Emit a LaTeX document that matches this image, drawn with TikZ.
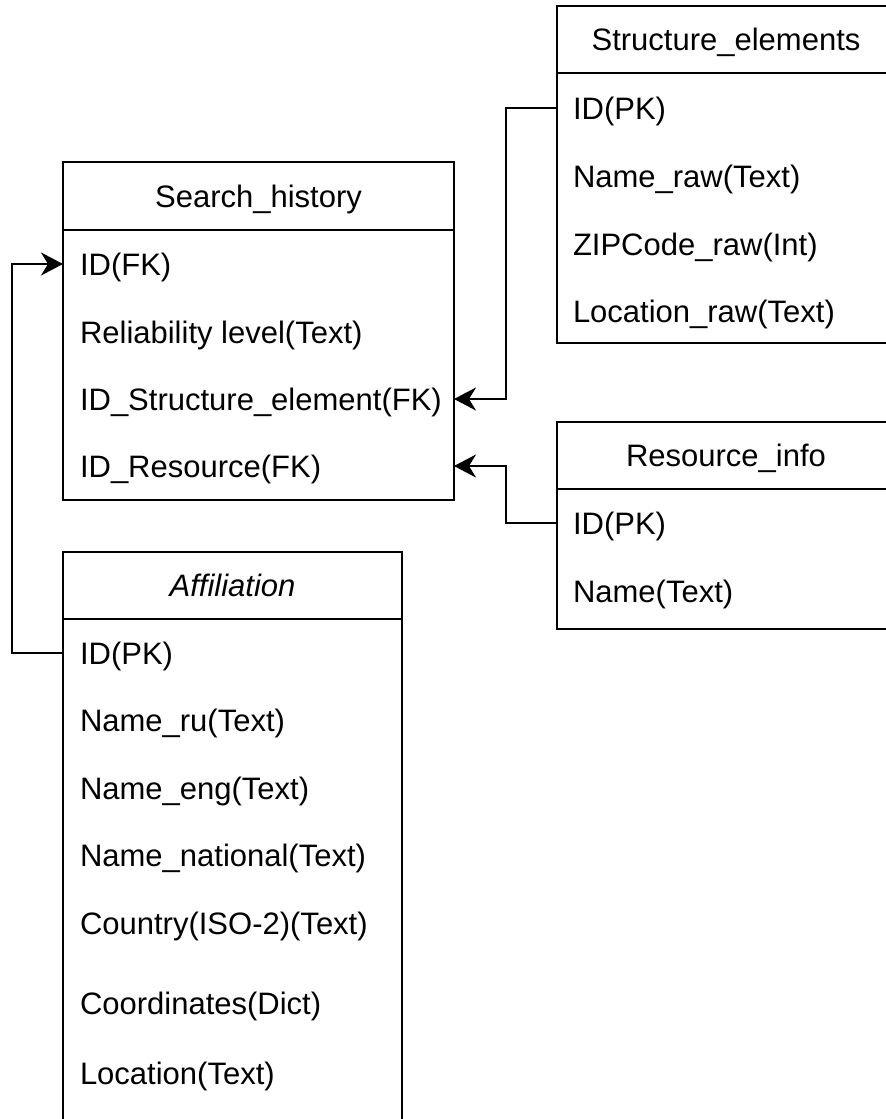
\documentclass[tikz,border=0pt]{standalone}
\usepackage{fontspec}
\setmainfont{Liberation Sans}
\usetikzlibrary{arrows.meta}
\begin{document}
\begin{tikzpicture}[x=1pt,y=-1pt,
  every node/.style={font=\fontsize{31}{37}\selectfont},
  hdr/.style={draw, line width=2pt, rectangle, inner sep=0pt, outer sep=0pt,
    text height=22pt, text depth=0pt},
  tbody/.style={draw, line width=2pt, rectangle, anchor=north, inner sep=0pt, outer sep=0pt},
  fld/.style={rectangle, anchor=west, inner sep=0pt, outer sep=0pt, text height=22pt, text depth=0pt},
  conn/.style={line width=2pt, -{Stealth[length=22pt,width=23pt,inset=7pt]}},
]
\useasboundingbox (0,0) rectangle (886,1119);
\clip (0,0) rectangle (886,1119);
\fill[white] (0,0) rectangle (886,1119);

% Search_history table
\node[hdr, minimum width=391pt, minimum height=68pt] (sh) at (258.5,196) {Search\_history};
\node[tbody, minimum width=391pt, minimum height=270pt] (shb) at (sh.south) {};
\node[fld] (shid)  at (80,264) {ID(FK)};
\node[fld] (shrel) at (80,332) {Reliability level(Text)};
\node[fld] (shse)  at (80,399) {ID\_Structure\_element(FK)};
\node[fld] (shres) at (80,466) {ID\_Resource(FK)};

% Structure_elements table
\node[hdr, minimum width=338pt, minimum height=67pt] (se) at (726,39.5) {Structure\_elements};
\node[tbody, minimum width=338pt, minimum height=270pt] (seb) at (se.south) {};
\node[fld] (seid)  at (573,108) {ID(PK)};
\node[fld] (sename) at (573,176) {Name\_raw(Text)};
\node[fld] (sezip) at (573,244) {ZIPCode\_raw(Int)};
\node[fld] (seloc) at (573,311) {Location\_raw(Text)};

% Resource_info table
\node[hdr, minimum width=338pt, minimum height=67pt] (ri) at (726,455.5) {Resource\_info};
\node[tbody, minimum width=338pt, minimum height=140pt] (rib) at (ri.south) {};
\node[fld] (riid)   at (573,523) {ID(PK)};
\node[fld] (riname) at (573,591) {Name(Text)};

% Affiliation table
\node[hdr, minimum width=339pt, minimum height=67pt] (af) at (232.5,585.5) {\itshape Affiliation};
\node[tbody, minimum width=339pt, minimum height=530pt] (afb) at (af.south) {};
\node[fld] (afid)   at (80,653)  {ID(PK)};
\node[fld] (afru)   at (80,720)  {Name\_ru(Text)};
\node[fld] (afeng)  at (80,788)  {Name\_eng(Text)};
\node[fld] (afnat)  at (80,855)  {Name\_national(Text)};
\node[fld] (afcty)  at (80,923)  {Country(ISO-2)(Text)};
\node[fld] (afcrd)  at (80,1003) {Coordinates(Dict)};
\node[fld] (afloc)  at (80,1073) {Location(Text)};

% routing columns for the connectors
\coordinate (lbus) at (12,0);
\coordinate (rbus) at (506,0);

\draw[conn] (afid.west -| afb.west) -- (afid.west -| lbus) |- (shid.west -| shb.west);
\draw[conn] (seid.west -| seb.west) -- (seid.west -| rbus) |- (shse.west -| shb.east);
\draw[conn] (riid.west -| rib.west) -- (riid.west -| rbus) |- (shres.west -| shb.east);
\end{tikzpicture}
\end{document}
